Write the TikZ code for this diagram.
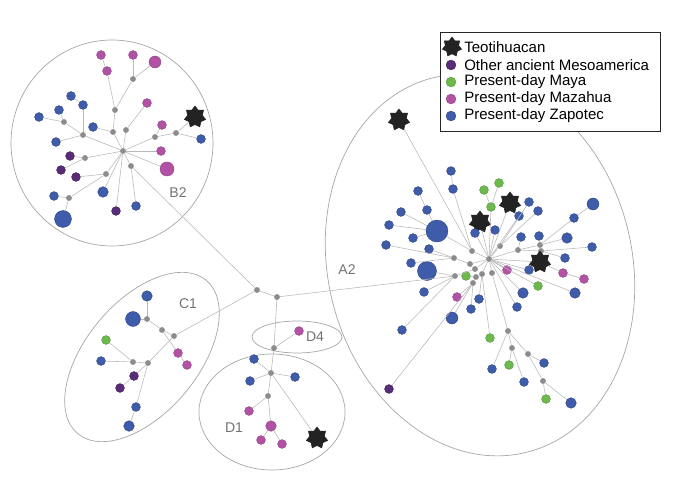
\documentclass[tikz,border=0pt]{standalone}
\usepackage{fontspec}
\setmainfont{Liberation Sans}
\usepackage{tikz}
\usetikzlibrary{shapes.geometric}
\definecolor{zapc}{RGB}{62,92,170}
\definecolor{mazc}{RGB}{178,82,164}
\definecolor{mayc}{RGB}{108,186,78}
\definecolor{ancc}{RGB}{88,44,120}
\definecolor{mvc}{RGB}{140,140,140}
\definecolor{teoc}{RGB}{35,35,35}
\tikzstyle{hap} = [circle, inner sep=0pt, minimum size=6.3pt, line width=0.3pt]
\tikzstyle{zap} = [hap, fill=zapc, draw=zapc!75!black]
\tikzstyle{maz} = [hap, fill=mazc, draw=mazc!80!black]
\tikzstyle{may} = [hap, fill=mayc, draw=mayc!80!black]
\tikzstyle{anc} = [hap, fill=ancc, draw=ancc!70!black]
\tikzstyle{mv} = [circle, inner sep=0pt, minimum size=4.2pt, fill=mvc]
\tikzstyle{teo} = [star, star points=7, star point ratio=1.45, inner sep=0pt, minimum size=15.5pt, fill=teoc, draw=teoc]
\tikzstyle{link} = [draw=black!28, line width=0.4pt]
\tikzstyle{grp} = [draw=black!35, line width=0.5pt]
\tikzstyle{grplabel} = [text=black!55, font=\fontsize{10}{12}\selectfont]
\tikzstyle{legtext} = [anchor=west, inner sep=0pt, font=\fontsize{10.7}{12}\selectfont]

\begin{document}
\begin{tikzpicture}[x=0.025cm, y=-0.025cm]
	\useasboundingbox (0,0) rectangle (680,485);

	% group outlines
	\draw [grp] (112,143) ellipse [x radius=101, y radius=103];
	\draw [grp, rotate around={50:(142,357)}] (142,357) ellipse [x radius=100, y radius=56];
	\draw [grp] (297,337) ellipse [x radius=45, y radius=16];
	\draw [grp] (272,412) ellipse [x radius=73, y radius=58];
	\draw [grp, rotate around={14:(480,265)}] (480,265) ellipse [x radius=152, y radius=193];

	\node (lB2) [grplabel] at (178,193) {B2};
	\node (lC1) [grplabel] at (188,304) {C1};
	\node (lD4) [grplabel] at (315,337) {D4};
	\node (lD1) [grplabel] at (234,428) {D1};
	\node (lA2) [grplabel] at (347,270) {A2};

	% B2
	\node (b0) [mv] at (123,151) {};
	\node (b1) [mv] at (113,132) {};
	\node (b2) [mv] at (115,110) {};
	\node (b3) [maz] at (107,71) {};
	\node (b4) [maz] at (101,55) {};
	\node (b5) [mv] at (133,79) {};
	\node (b6) [maz] at (133,55) {};
	\node (b7) [maz, minimum size=8.5pt] at (155,62) {};
	\node (b8) [mv] at (126,130) {};
	\node (b9) [maz] at (147,103) {};
	\node (b10) [zap] at (93,127) {};
	\node (b11) [mv] at (83,135) {};
	\node (b12) [mv] at (64,122) {};
	\node (b13) [zap] at (39,117) {};
	\node (b14) [zap] at (59,110) {};
	\node (b15) [zap] at (83,105) {};
	\node (b16) [zap] at (71,96) {};
	\node (b17) [zap] at (56,142) {};
	\node (b18) [mv] at (155,137) {};
	\node (b19) [maz] at (162,125) {};
	\node (b20) [mv] at (176,133) {};
	\node (b21) [teo] at (195,117) {};
	\node (b22) [zap] at (201,139) {};
	\node (b23) [maz] at (161,151) {};
	\node (b24) [maz, minimum size=10pt] at (167,169) {};
	\node (b25) [mv] at (85,158) {};
	\node (b26) [anc] at (70,156) {};
	\node (b27) [anc] at (61,170) {};
	\node (b28) [mv] at (106,174) {};
	\node (b29) [anc] at (76,177) {};
	\node (b30) [mv] at (69,198) {};
	\node (b31) [zap] at (54,196) {};
	\node (b32) [zap, minimum size=12pt] at (63,219) {};
	\node (b33) [zap, minimum size=7.5pt] at (103,192) {};
	\node (b34) [anc] at (116,211) {};
	\node (b35) [mv] at (131,166) {};
	\node (b36) [zap] at (136,206) {};

	% joints between groups
	\node (j1) [mv] at (257,290) {};
	\node (j2) [mv] at (277,297) {};

	% C1
	\node (c1) [zap, minimum size=7.5pt] at (147,296) {};
	\node (c2) [zap, minimum size=10.6pt] at (133,319) {};
	\node (c3) [mv] at (174,336) {};
	\node (c4) [mv] at (162,330) {};
	\node (c5) [mv] at (147,319) {};
	\node (c6) [maz] at (178,353) {};
	\node (c7) [maz] at (187,365) {};
	\node (c8) [may] at (106,340) {};
	\node (c9) [zap] at (101,361) {};
	\node (c10) [mv] at (133,362) {};
	\node (c11) [mv] at (148,363) {};
	\node (c12) [anc] at (134,376) {};
	\node (c13) [anc] at (120,388) {};
	\node (c14) [zap] at (136,407) {};
	\node (c15) [zap, minimum size=7.5pt] at (129,426) {};

	% D4 and D1
	\node (d0) [mv] at (274,348) {};
	\node (d1) [maz] at (299,331) {};
	\node (d2) [mv] at (271,373) {};
	\node (d3) [zap] at (254,359) {};
	\node (d4) [zap] at (250,381) {};
	\node (d5) [zap] at (295,377) {};
	\node (d6) [mv] at (268,396) {};
	\node (d7) [maz] at (249,411) {};
	\node (d8) [maz, minimum size=7.5pt] at (271,426) {};
	\node (d9) [maz] at (261,440) {};
	\node (d10) [maz] at (282,444) {};
	\node (d11) [teo] at (317,438) {};

	% A2
	\node (a0) [mv] at (489,259) {};
	\node (a1) [mv] at (500,246) {};
	\node (a2) [mv] at (540,245) {};
	\node (a3) [mv] at (472,251) {};
	\node (a4) [mv] at (518,250) {};
	\node (a5) [mv] at (541,251) {};
	\node (a6) [mv] at (454,258) {};
	\node (a7) [mv] at (470,264) {};
	\node (a8) [mv] at (475,269) {};
	\node (a9) [mv] at (455,276) {};
	\node (a10) [mv] at (482,274) {};
	\node (a11) [mv] at (492,273) {};
	\node (a12) [mv] at (473,283) {};
	\node (a13) [mv] at (476,277) {};
	\node (a14) [mv] at (508,331) {};
	\node (a15) [mv] at (512,348) {};
	\node (a16) [mv] at (528,354) {};
	\node (a17) [mv] at (543,381) {};
	\node (t1) [teo] at (399,120) {};
	\node (t2) [teo] at (510,203) {};
	\node (t3) [teo] at (480,222) {};
	\node (t4) [teo] at (540,262) {};
	\node (z1) [zap] at (451,171) {};
	\node (z2) [zap] at (453,189) {};
	\node (z3) [zap] at (418,191) {};
	\node (z4) [zap] at (401,212) {};
	\node (z5) [zap] at (427,210) {};
	\node (z6) [zap] at (389,225) {};
	\node (z7) [zap, minimum size=15.6pt] at (437,231) {};
	\node (z8) [zap] at (413,238) {};
	\node (z9) [zap] at (386,245) {};
	\node (z10) [zap] at (429,249) {};
	\node (z11) [zap] at (411,263) {};
	\node (z12) [zap, minimum size=13.5pt] at (427,271) {};
	\node (z13) [zap] at (424,292) {};
	\node (z14) [zap] at (475,233) {};
	\node (z15) [zap] at (495,230) {};
	\node (z16) [zap] at (529,202) {};
	\node (z17) [zap] at (519,216) {};
	\node (z18) [zap] at (538,211) {};
	\node (z19) [zap, minimum size=8.5pt] at (593,204) {};
	\node (z20) [zap] at (574,218) {};
	\node (z21) [zap] at (521,237) {};
	\node (z22) [zap] at (539,236) {};
	\node (z23) [zap, minimum size=7.5pt] at (567,238) {};
	\node (z24) [zap] at (592,247) {};
	\node (z25) [zap] at (565,258) {};
	\node (z26) [zap] at (529,270) {};
	\node (z27) [zap, minimum size=7.5pt] at (523,293) {};
	\node (z28) [zap, minimum size=7.5pt] at (575,293) {};
	\node (z29) [zap] at (517,307) {};
	\node (z30) [zap] at (479,299) {};
	\node (z31) [zap] at (471,309) {};
	\node (z32) [zap, minimum size=8.5pt] at (452,318) {};
	\node (z33) [zap] at (402,330) {};
	\node (z34) [zap] at (492,369) {};
	\node (z35) [zap] at (544,363) {};
	\node (z36) [zap] at (524,382) {};
	\node (z37) [zap, minimum size=7.5pt] at (571,403) {};
	\node (m1) [may] at (499,183) {};
	\node (m2) [may] at (484,190) {};
	\node (m3) [may] at (491,207) {};
	\node (m4) [may] at (466,276) {};
	\node (m5) [may] at (538,286) {};
	\node (m6) [may] at (490,338) {};
	\node (m7) [may] at (509,365) {};
	\node (m8) [may] at (546,399) {};
	\node (x1) [maz] at (507,270) {};
	\node (x2) [maz] at (563,273) {};
	\node (x3) [maz] at (584,279) {};
	\node (x4) [maz] at (457,297) {};
	\node (p1) [anc] at (389,389) {};

	% B2 links
	\draw [link] (b0) -- (b1);
	\draw [link] (b1) -- (b2);
	\draw [link] (b2) -- (b3);
	\draw [link] (b3) -- (b4);
	\draw [link] (b2) -- (b5);
	\draw [link] (b5) -- (b6);
	\draw [link] (b5) -- (b7);
	\draw [link] (b0) -- (b8);
	\draw [link] (b8) -- (b9);
	\draw [link] (b1) -- (b10);
	\draw [link] (b0) -- (b11);
	\draw [link] (b11) -- (b12);
	\draw [link] (b12) -- (b13);
	\draw [link] (b12) -- (b14);
	\draw [link] (b11) -- (b15);
	\draw [link] (b15) -- (b16);
	\draw [link] (b11) -- (b17);
	\draw [link] (b0) -- (b18);
	\draw [link] (b18) -- (b19);
	\draw [link] (b18) -- (b20);
	\draw [link] (b20) -- (b21);
	\draw [link] (b20) -- (b22);
	\draw [link] (b0) -- (b23);
	\draw [link] (b0) -- (b24);
	\draw [link] (b0) -- (b25);
	\draw [link] (b25) -- (b26);
	\draw [link] (b25) -- (b27);
	\draw [link] (b0) -- (b28);
	\draw [link] (b28) -- (b29);
	\draw [link] (b28) -- (b30);
	\draw [link] (b30) -- (b31);
	\draw [link] (b30) -- (b32);
	\draw [link] (b0) -- (b33);
	\draw [link] (b0) -- (b34);
	\draw [link] (b0) -- (b35);
	\draw [link] (b35) -- (b36);

	% between groups
	\draw [link] (b35) -- (j1);
	\draw [link] (j1) -- (j2);
	\draw [link] (j1) -- (c3);
	\draw [link] (j2) -- (a9);
	\draw [link] (j2) -- (d0);

	% C1 links
	\draw [link] (c3) -- (c4);
	\draw [link] (c4) -- (c5);
	\draw [link] (c5) -- (c1);
	\draw [link] (c5) -- (c2);
	\draw [link] (c4) -- (c6);
	\draw [link] (c6) -- (c7);
	\draw [link] (c3) -- (c11);
	\draw [link] (c11) -- (c10);
	\draw [link] (c10) -- (c8);
	\draw [link] (c10) -- (c9);
	\draw [link] (c11) -- (c12);
	\draw [link] (c12) -- (c13);
	\draw [link] (c11) -- (c14);
	\draw [link] (c14) -- (c15);

	% D4 and D1 links
	\draw [link] (d0) -- (d1);
	\draw [link] (d0) -- (d2);
	\draw [link] (d2) -- (d3);
	\draw [link] (d2) -- (d4);
	\draw [link] (d2) -- (d5);
	\draw [link] (d2) -- (d6);
	\draw [link] (d2) -- (d11);
	\draw [link] (d6) -- (d7);
	\draw [link] (d6) -- (d8);
	\draw [link] (d8) -- (d9);
	\draw [link] (d8) -- (d10);

	% A2 links
	\draw [link] (t1) -- (a3);
	\draw [link] (z1) -- (z2);
	\draw [link] (z2) -- (a3);
	\draw [link] (m1) -- (m3);
	\draw [link] (m2) -- (m3);
	\draw [link] (m3) -- (a0);
	\draw [link] (t2) -- (a0);
	\draw [link] (t3) -- (a0);
	\draw [link] (z14) -- (a0);
	\draw [link] (z15) -- (a0);
	\draw [link] (a1) -- (a0);
	\draw [link] (a1) -- (z16);
	\draw [link] (a1) -- (z18);
	\draw [link] (z17) -- (a0);
	\draw [link] (z3) -- (z5);
	\draw [link] (z5) -- (z7);
	\draw [link] (z4) -- (z7);
	\draw [link] (z6) -- (z7);
	\draw [link] (z8) -- (z7);
	\draw [link] (z7) -- (a3);
	\draw [link] (a3) -- (a0);
	\draw [link] (z9) -- (a6);
	\draw [link] (z10) -- (a6);
	\draw [link] (z11) -- (a6);
	\draw [link] (a6) -- (a7);
	\draw [link] (a7) -- (a0);
	\draw [link] (z12) -- (a9);
	\draw [link] (z13) -- (a9);
	\draw [link] (z33) -- (a9);
	\draw [link] (a9) -- (a8);
	\draw [link] (a8) -- (a0);
	\draw [link] (a12) -- (a13);
	\draw [link] (a13) -- (a10);
	\draw [link] (a10) -- (a0);
	\draw [link] (m4) -- (a13);
	\draw [link] (x4) -- (a12);
	\draw [link] (z32) -- (a12);
	\draw [link] (z31) -- (a12);
	\draw [link] (p1) -- (a12);
	\draw [link] (z30) -- (a10);
	\draw [link] (m6) -- (a10);
	\draw [link] (a11) -- (a0);
	\draw [link] (a14) -- (a11);
	\draw [link] (a14) -- (z34);
	\draw [link] (a14) -- (a15);
	\draw [link] (a15) -- (m7);
	\draw [link] (a15) -- (z36);
	\draw [link] (a14) -- (a16);
	\draw [link] (a16) -- (z35);
	\draw [link] (a16) -- (a17);
	\draw [link] (a17) -- (m8);
	\draw [link] (a17) -- (z37);
	\draw [link] (z29) -- (a0);
	\draw [link] (z27) -- (a0);
	\draw [link] (z28) -- (a0);
	\draw [link] (m5) -- (a0);
	\draw [link] (z26) -- (a0);
	\draw [link] (x1) -- (a0);
	\draw [link] (t4) -- (a0);
	\draw [link] (t4) -- (x2);
	\draw [link] (x2) -- (x3);
	\draw [link] (a4) -- (a0);
	\draw [link] (a4) -- (a2);
	\draw [link] (a4) -- (a5);
	\draw [link] (a4) -- (z21);
	\draw [link] (a2) -- (z20);
	\draw [link] (z20) -- (z19);
	\draw [link] (a2) -- (z23);
	\draw [link] (a2) -- (z22);
	\draw [link] (a5) -- (z24);
	\draw [link] (a5) -- (z25);

	% legend
	\draw [line width=0.7pt, draw=black!85, fill=white] (440,32) rectangle (660,131);
	\node (kteo) [teo, minimum size=14pt] at (452,47) {};
	\node (kanc) [anc, minimum size=7pt] at (451,65) {};
	\node (kmay) [may, minimum size=7pt] at (451,82) {};
	\node (kmaz) [maz, minimum size=7pt] at (451,99) {};
	\node (kzap) [zap, minimum size=7pt] at (451,116) {};
	\node (tteo) [legtext] at (464,47) {Teotihuacan};
	\node (tanc) [legtext] at (464,65) {Other ancient Mesoamerica};
	\node (tmay) [legtext] at (464,82) {Present-day Maya};
	\node (tmaz) [legtext] at (464,99) {Present-day Mazahua};
	\node (tzap) [legtext] at (464,116) {Present-day Zapotec};
\end{tikzpicture}
\end{document}
